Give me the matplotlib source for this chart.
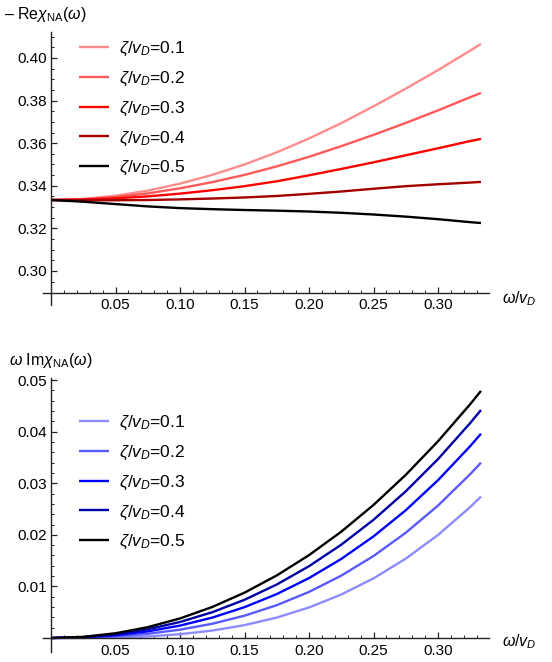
import matplotlib
matplotlib.use("Agg")
import matplotlib.pyplot as plt
from matplotlib.ticker import FixedLocator, NullFormatter

plt.rcParams['font.family'] = ['Liberation Sans', 'DejaVu Sans']
plt.rcParams['mathtext.fontset'] = 'custom'
plt.rcParams['mathtext.rm'] = 'Liberation Sans'
plt.rcParams['mathtext.it'] = 'Liberation Sans:italic'
plt.rcParams['mathtext.bf'] = 'Liberation Sans:bold'

# ---- data ----
omega = [0, 0.025, 0.05, 0.075, 0.1, 0.125, 0.15, 0.175, 0.2, 0.225, 0.25,
         0.275, 0.3, 0.325, 0.3333]
zeta_labels = ["0.1", "0.2", "0.3", "0.4", "0.5"]

re_01 = [0.3333, 0.3338, 0.3353, 0.3377, 0.3410, 0.3451, 0.3500, 0.3557, 0.3622,
         0.3694, 0.3773, 0.3856, 0.3943, 0.4035, 0.4066]
re_02 = [0.3333, 0.3337, 0.3347, 0.3364, 0.3388, 0.3417, 0.3451, 0.3491, 0.3536,
         0.3586, 0.3639, 0.3695, 0.3754, 0.3816, 0.3836]
re_03 = [0.3333, 0.3335, 0.3341, 0.3350, 0.3363, 0.3379, 0.3398, 0.3421, 0.3449,
         0.3479, 0.3510, 0.3543, 0.3576, 0.3610, 0.3620]
re_04 = [0.3333, 0.3332, 0.3332, 0.3333, 0.3336, 0.3340, 0.3345, 0.3352, 0.3362,
         0.3373, 0.3386, 0.3398, 0.3407, 0.3415, 0.3418]
re_05 = [0.3333, 0.3325, 0.3314, 0.3303, 0.3295, 0.3290, 0.3286, 0.3283, 0.3279,
         0.3273, 0.3265, 0.3255, 0.3243, 0.3229, 0.3225]

im_01 = [0, 0.0000116, 0.0000925, 0.000312, 0.00074, 0.001445, 0.002498, 0.003966,
         0.00592, 0.008429, 0.011563, 0.01539, 0.01998, 0.025403, 0.027407]
im_02 = [0, 0.000072, 0.000326, 0.000821, 0.001615, 0.002765, 0.00433, 0.006367,
         0.008936, 0.012093, 0.015899, 0.020409, 0.025682, 0.031776, 0.0340]
im_03 = [0, 0.000127, 0.000541, 0.001286, 0.00241, 0.003958, 0.005979, 0.008517,
         0.011618, 0.015331, 0.0197, 0.024772, 0.030595, 0.037213, 0.039604]
im_04 = [0, 0.000177, 0.00073, 0.001695, 0.003107, 0.0050, 0.00741, 0.010372,
         0.013921, 0.018091, 0.022919, 0.028438, 0.034684, 0.041692, 0.044204]
im_05 = [0, 0.000227, 0.000921, 0.002104, 0.003796, 0.006018, 0.00879, 0.012132,
         0.016068, 0.020615, 0.025797, 0.031632, 0.038142, 0.045347, 0.047905]

re_series = [re_01, re_02, re_03, re_04, re_05]
im_series = [im_01, im_02, im_03, im_04, im_05]

x_major = [0.05, 0.10, 0.15, 0.20, 0.25, 0.30]
x_labels = ["0.05", "0.10", "0.15", "0.20", "0.25", "0.30"]
re_y_major = [0.30, 0.32, 0.34, 0.36, 0.38, 0.40]
re_y_labels = ["0.30", "0.32", "0.34", "0.36", "0.38", "0.40"]
im_y_major = [0.01, 0.02, 0.03, 0.04, 0.05]
im_y_labels = ["0.01", "0.02", "0.03", "0.04", "0.05"]

red_colors = ["#ff8c8c", "#ff5959", "#ff0000", "#a30000", "#000000"]
blue_colors = ["#8c8cff", "#5959ff", "#0000ff", "#0000a3", "#000000"]

W, H = 552, 662
fig = plt.figure(figsize=(W / 100, H / 100), dpi=100)


def px_axes(x0, x1, y0, y1):
    return fig.add_axes([x0 / W, 1 - y1 / H, (x1 - x0) / W, (y1 - y0) / H])


def style(ax, xlim, ylim, ycross, ymaj, ylab, yminor):
    ax.set_xlim(*xlim)
    ax.set_ylim(*ylim)
    for s in ['top', 'right']:
        ax.spines[s].set_visible(False)
    ax.spines['left'].set_position(('data', 0))
    ax.spines['bottom'].set_position(('data', ycross))
    for s in ['left', 'bottom']:
        ax.spines[s].set_linewidth(1.0)
        ax.spines[s].set_color('#222222')
    ax.set_xticks(x_major)
    ax.set_xticklabels(x_labels)
    ax.set_yticks(ymaj)
    ax.set_yticklabels(ylab)
    xminor = [i / 100 for i in range(1, 34) if i % 5 != 0]
    ax.xaxis.set_minor_locator(FixedLocator(xminor))
    ax.yaxis.set_minor_locator(FixedLocator(yminor))
    ax.xaxis.set_minor_formatter(NullFormatter())
    ax.yaxis.set_minor_formatter(NullFormatter())
    ax.tick_params(which='major', direction='in', length=4.5, width=0.9,
                   color='#222222', labelsize=11, pad=4)
    ax.tick_params(which='minor', direction='in', length=2.3, width=0.7,
                   color='#222222')
    ax.tick_params(axis='y', which='both', pad=3)


leg_kw = dict(frameon=False, fontsize=12.5, handlelength=1.7,
              handletextpad=0.6, labelspacing=0.66, borderaxespad=0,
              borderpad=0, loc='upper left')

# ---- top panel ----
ax1 = px_axes(43, 489, 32, 305)
for vals, c, lab in zip(re_series, red_colors, zeta_labels):
    ax1.plot(omega, vals, color=c, lw=1.7, label=r"$\zeta/v_D$=" + lab,
             solid_capstyle='butt')
re_minor = [round(0.29 + 0.005 * i, 3) for i in range(1, 25)
            if round(0.29 + 0.005 * i, 3) not in re_y_major]
style(ax1, (-0.0062, 0.3395), (0.2840, 0.4122), 0.2897, re_y_major,
      re_y_labels, re_minor)
ax1.legend(bbox_to_anchor=(79 / W, 1 - 40 / H),
           bbox_transform=fig.transFigure, **leg_kw)

# ---- bottom panel ----
ax2 = px_axes(43, 489, 378, 652)
for vals, c, lab in zip(im_series, blue_colors, zeta_labels):
    ax2.plot(omega, vals, color=c, lw=1.7, label=r"$\zeta/v_D$=" + lab,
             solid_capstyle='butt')
im_minor = [round(0.002 * i, 3) for i in range(1, 26)
            if round(0.002 * i, 3) not in im_y_major]
style(ax2, (-0.0062, 0.3395), (-0.00271, 0.0504), 0.0, im_y_major,
      im_y_labels, im_minor)
ax2.legend(bbox_to_anchor=(79 / W, 1 - 414 / H),
           bbox_transform=fig.transFigure, **leg_kw)

# ---- axis labels ----
fig.text(4 / W, 1 - 15 / H, r"– Re$\chi_{\mathrm{NA}}(\omega)$", fontsize=11.5,
         ha='left', va='center')
fig.text(9 / W, 1 - 360 / H, r"$\omega$ Im$\chi_{\mathrm{NA}}(\omega)$",
         fontsize=11.5, ha='left', va='center')
fig.text(502 / W, 1 - 299 / H, r"$\omega/v_D$", fontsize=11.5, ha='left',
         va='center')
fig.text(502 / W, 1 - 642 / H, r"$\omega/v_D$", fontsize=11.5, ha='left',
         va='center')

fig.savefig("out.png", dpi=100)
